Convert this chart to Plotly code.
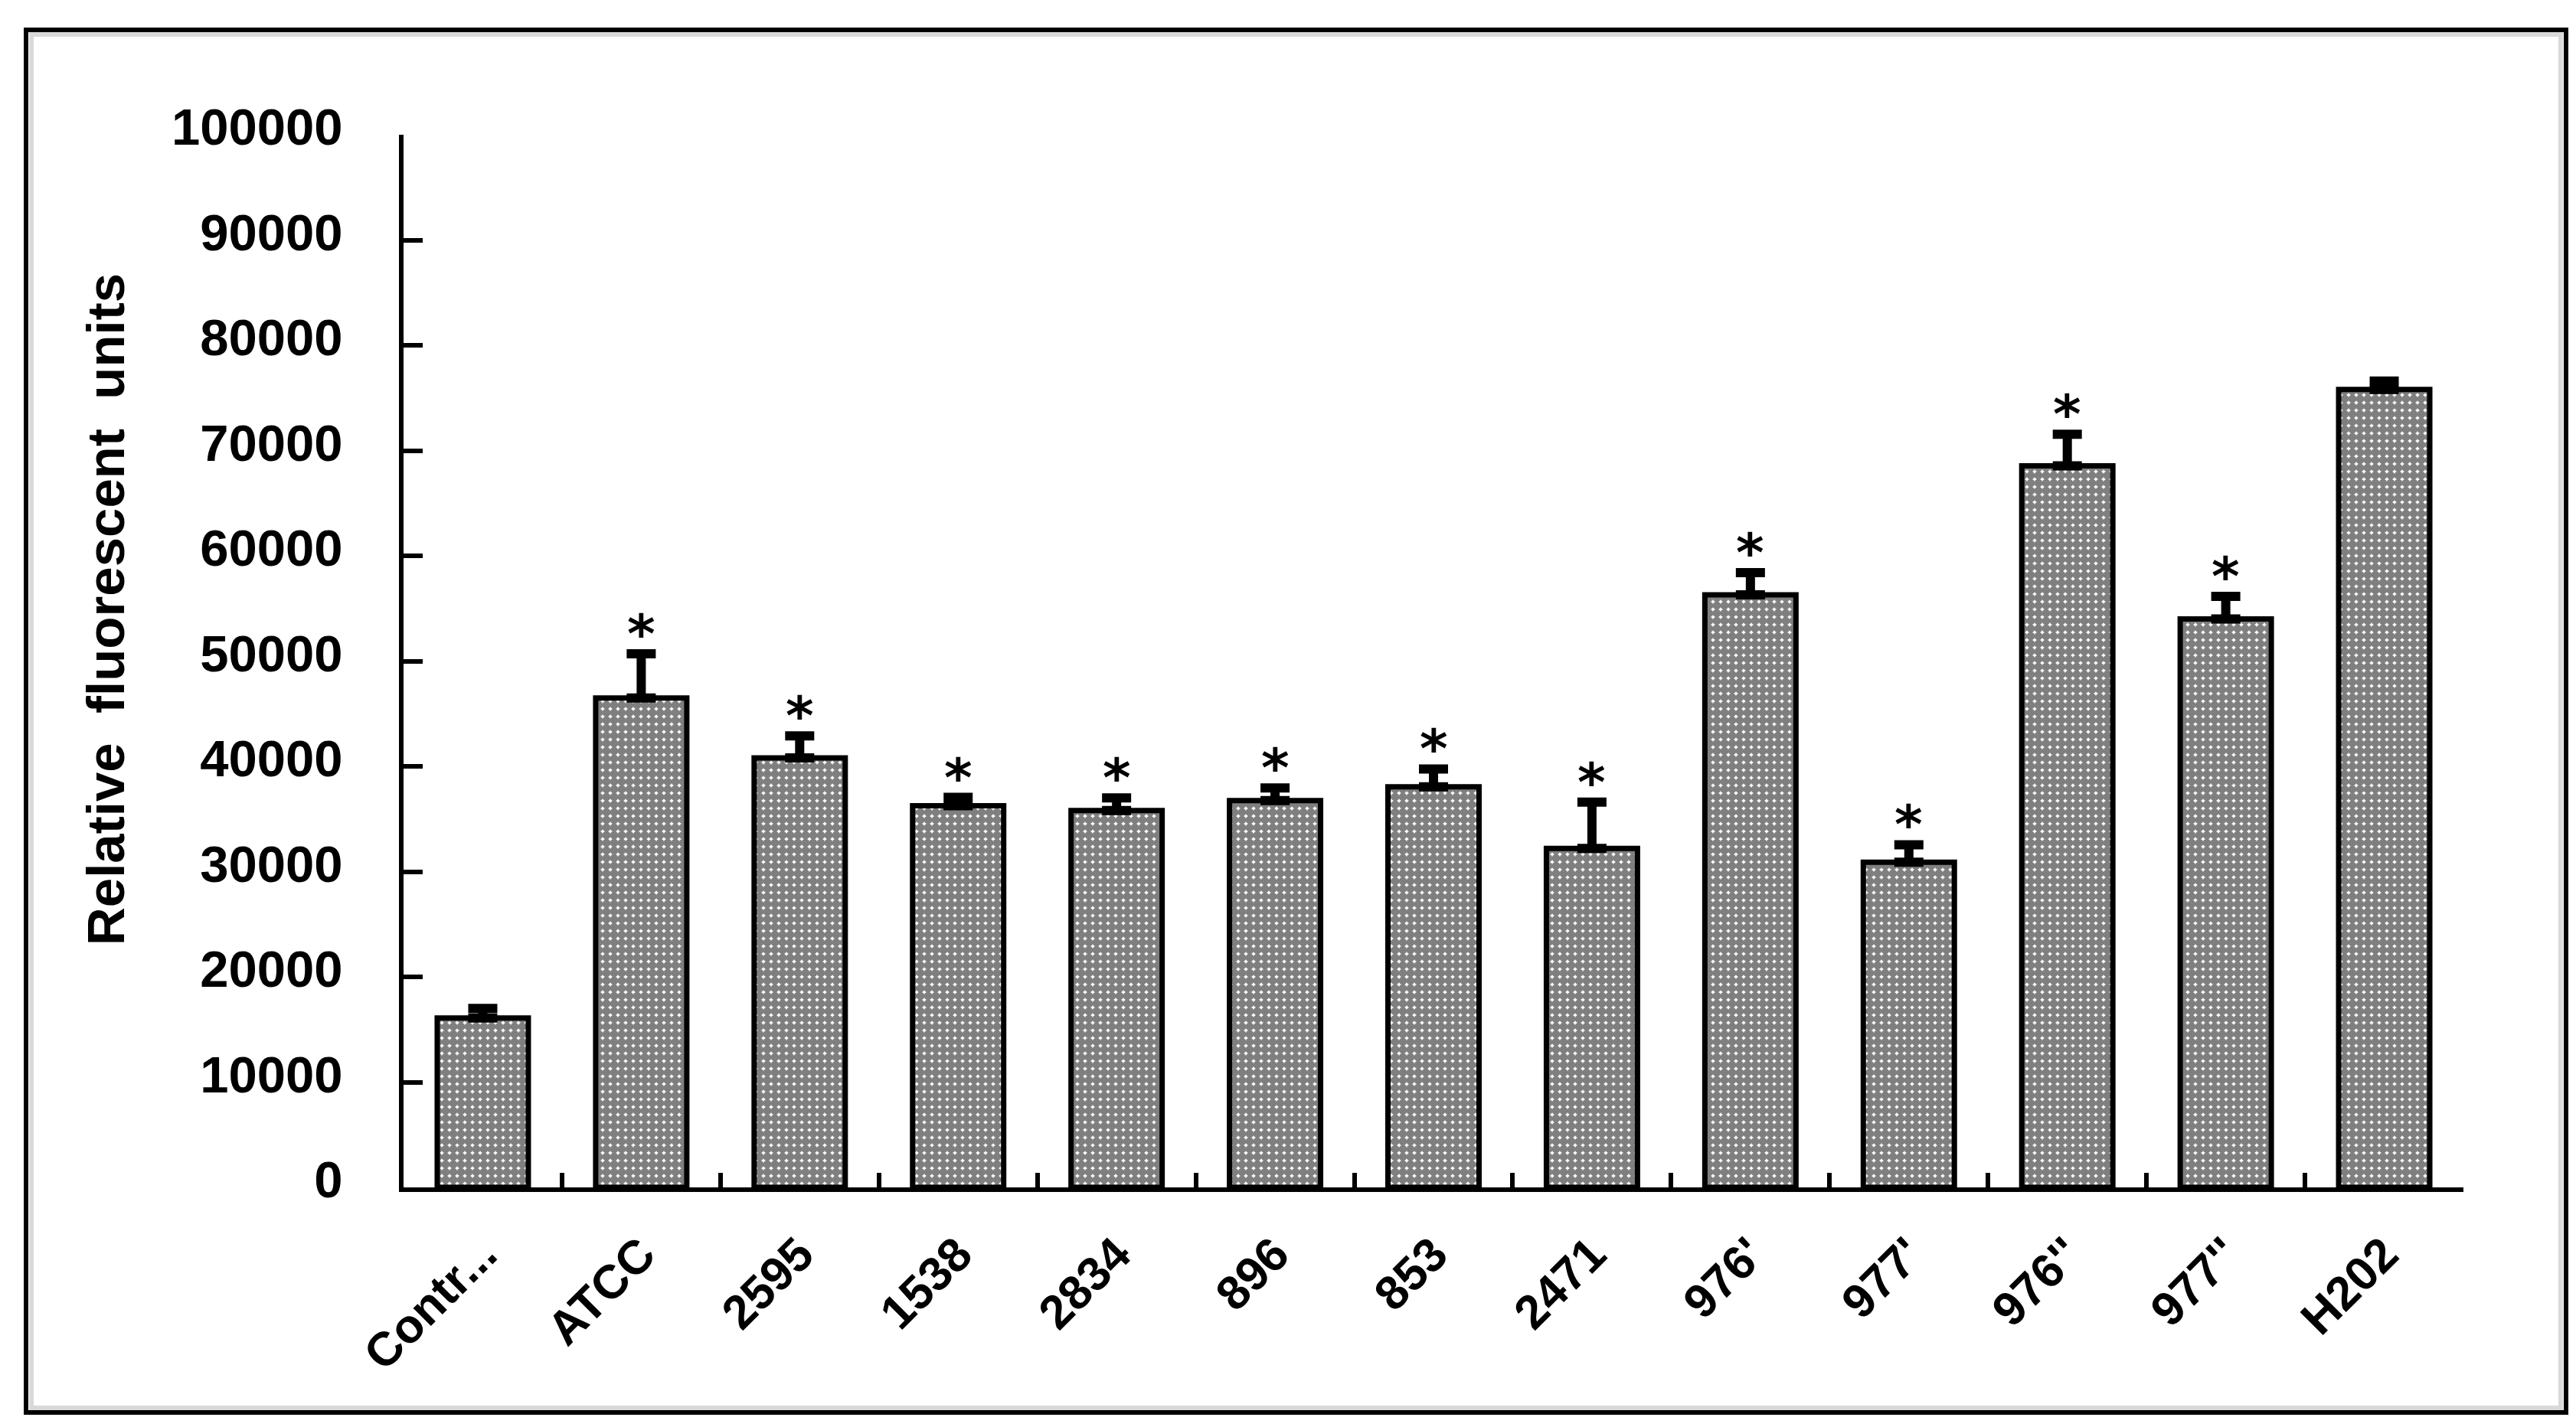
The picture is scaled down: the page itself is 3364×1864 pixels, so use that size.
import plotly.graph_objects as go

categories = ["Contr...", "ATCC", "2595", "1538", "2834", "896", "853", "2471",
              "976'", "977'", "976''", "977''", "H202"]
values = [16100, 46500, 40800, 36250, 35800, 36750, 38050, 32200,
          56300, 30900, 68550, 54000, 75800]
errors = [900, 4200, 2100, 800, 1200, 1200, 1700, 4400,
          2100, 1650, 3000, 2150, 800]
significant = [False, True, True, True, True, True, True, True,
               True, True, True, True, False]
y_ticks = [0, 10000, 20000, 30000, 40000, 50000, 60000, 70000, 80000, 90000, 100000]

W, H = 3364, 1864
L, R, T, B = 519, 155, 168, 321
PW = W - L - R
PH = H - T - B


def px_x(p):
    return (p - L) / PW


def px_y(p):
    return (H - B - p) / PH


fig = go.Figure()
fig.add_trace(go.Bar(
    x=categories,
    y=values,
    width=0.575,
    marker=dict(
        color="white",
        line=dict(color="black", width=7),
        pattern=dict(shape=".", fgcolor="black", bgcolor="white", size=10, solidity=0.82),
    ),
    error_y=dict(type="data", array=errors, arrayminus=[0] * len(errors), symmetric=False,
                 color="black", thickness=12, width=19, visible=True),
    showlegend=False,
))

for i, (v, e, s) in enumerate(zip(values, errors, significant)):
    if s:
        fig.add_annotation(x=i, y=v + e, text="*", showarrow=False, yanchor="middle",
                           yshift=26, font=dict(family="DejaVu Sans", size=70, color="black"))

fig.add_annotation(xref="paper", yref="paper", x=px_x(130), y=px_y(788),
                   text="Relative\u00a0\u00a0fluorescent\u00a0\u00a0units", textangle=-90,
                   showarrow=False, xanchor="center", yanchor="middle",
                   font=dict(family="Liberation Sans", size=69, color="black", weight="bold"))

# outer frame (black) and inner light-grey line
fig.add_shape(type="rect", xref="paper", yref="paper",
              x0=px_x(26), x1=px_x(3343), y0=px_y(1837), y1=px_y(31),
              line=dict(color="black", width=6), fillcolor="rgba(0,0,0,0)", layer="below")
fig.add_shape(type="rect", xref="paper", yref="paper",
              x0=px_x(33), x1=px_x(3336), y0=px_y(1831), y1=px_y(37),
              line=dict(color="#d9d9d9", width=6), fillcolor="rgba(0,0,0,0)", layer="below")

fig.update_layout(
    width=W, height=H,
    margin=dict(l=L, r=R, t=T, b=B, pad=0),
    paper_bgcolor="white", plot_bgcolor="white",
    font=dict(family="Liberation Sans", color="black", size=62, weight="bold"),
    bargap=0.4,
)
fig.update_xaxes(
    type="category", range=[-0.5, len(categories) - 0.5],
    showline=True, linecolor="black", linewidth=6,
    ticks="inside", tickson="boundaries", ticklen=19, tickwidth=6, tickcolor="black",
    tickangle=-45, tickfont=dict(family="Liberation Sans", size=62, color="black", weight="bold"),
    ticklabelstandoff=20,
    showgrid=False, zeroline=False,
)
fig.update_yaxes(
    range=[0, 100000], tickvals=y_ticks, ticktext=[str(v) for v in y_ticks],
    showline=True, linecolor="black", linewidth=6,
    ticks="inside", ticklen=25, tickwidth=6, tickcolor="black",
    tickfont=dict(family="Liberation Sans", size=67, color="black", weight="bold"),
    ticklabelstandoff=60, ticklabelshift=-10,
    showgrid=False, zeroline=False,
)

fig.write_html("out.html")
